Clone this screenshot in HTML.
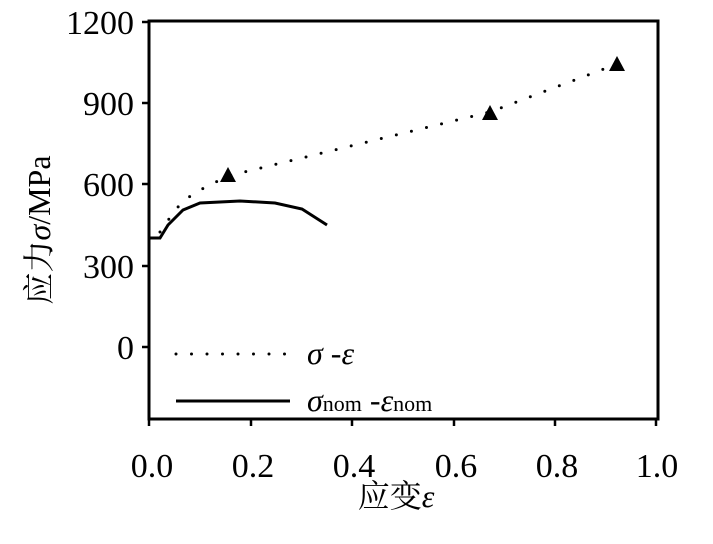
<!DOCTYPE html>
<html><head><meta charset="utf-8"><style>
html,body{margin:0;padding:0;background:#fff;width:713px;height:544px;overflow:hidden}
text{font-family:"Liberation Serif","Noto Serif CJK SC",serif;fill:#000}
</style></head><body>
<svg width="713" height="544" viewBox="0 0 713 544">
<rect x="149" y="21" width="509" height="398" fill="none" stroke="#000" stroke-width="3"/>
<g stroke="#000" stroke-width="2.5">
<line x1="149" y1="419" x2="149" y2="426"/><line x1="251" y1="419" x2="251" y2="426"/>
<line x1="352" y1="419" x2="352" y2="426"/><line x1="454" y1="419" x2="454" y2="426"/>
<line x1="555" y1="419" x2="555" y2="426"/><line x1="656" y1="419" x2="656" y2="426"/>
<line x1="142" y1="22" x2="149" y2="22"/><line x1="142" y1="103" x2="149" y2="103"/>
<line x1="142" y1="184" x2="149" y2="184"/><line x1="142" y1="266" x2="149" y2="266"/>
<line x1="142" y1="347" x2="149" y2="347"/>
</g>
<g font-size="34" text-anchor="end">
<text x="134" y="34">1200</text><text x="134" y="115">900</text><text x="134" y="196">600</text>
<text x="134" y="278">300</text><text x="134" y="359">0</text>
</g>
<g font-size="34" text-anchor="middle">
<text x="152" y="477">0.0</text><text x="253" y="477">0.2</text><text x="354" y="477">0.4</text>
<text x="456" y="477">0.6</text><text x="557" y="477">0.8</text><text x="657" y="477">1.0</text>
</g>
<text x="396" y="507" font-size="32" text-anchor="middle">应变<tspan font-style="italic">ε</tspan></text>
<text transform="translate(50,230) rotate(-90)" font-size="32" text-anchor="middle">应力<tspan font-style="italic">σ</tspan>/MPa</text>
<polyline points="149,347 149,238 160,238 168,225 183,210 200,203 240,201 275,203 302,209 327,225" fill="none" stroke="#000" stroke-width="3"/>
<polyline points="160,232 169,219 181,203 196,192 228,176 490,112 617,64" fill="none" stroke="#000" stroke-width="3" stroke-linecap="round" stroke-dasharray="0 15.5"/>
<g fill="#000">
<polygon points="228,167 220,182 236,182"/><polygon points="490,105 482,120 498,120"/><polygon points="617,56 609,71 625,71"/>
</g>
<line x1="176" y1="354" x2="285" y2="354" stroke="#000" stroke-width="3" stroke-linecap="round" stroke-dasharray="0 15.5"/>
<line x1="176" y1="401" x2="290" y2="401" stroke="#000" stroke-width="3"/>
<text x="307" y="364" font-size="32"><tspan font-style="italic">σ</tspan> -<tspan font-style="italic">ε</tspan></text>
<text x="307" y="411" font-size="32"><tspan font-style="italic">σ</tspan><tspan font-size="22">nom</tspan> -<tspan font-style="italic">ε</tspan><tspan font-size="22">nom</tspan></text>
</svg>
</body></html>
